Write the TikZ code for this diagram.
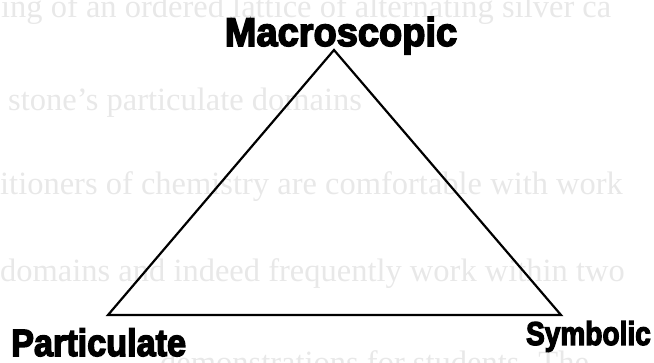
\documentclass[tikz,border=0pt]{standalone}
\usepackage{fontspec}
\setmainfont{Liberation Serif}
\newfontfamily\labelfont[BoldFeatures={FakeBold=4}]{Liberation Sans}
\tikzset{
  ghost/.style={anchor=base west, inner sep=0pt, text=black!9, font=\fontsize{32.5}{32.5}\selectfont},
  corner/.style={inner sep=0pt, text=black},
  edge/.style={draw=black, line width=2.2pt, line join=miter}
}
\begin{document}
\begin{tikzpicture}[x=1pt,y=-1pt]
\useasboundingbox (0,0) rectangle (654,363);
\clip (0,0) rectangle (654,363);
% faint show-through text of the page
\node[ghost] (g1) at (1,18) {ing of an ordered lattice of alternating silver ca};
\node[ghost] (g2) at (8,111) {stone's particulate domains};
\node[ghost] (g3) at (0,195) {itioners of chemistry are comfortable with work};
\node[ghost] (g4) at (0,282) {domains and indeed frequently work within two};
\node[ghost] (g5) at (160,374) {demonstrations for students. The};
% triangle
\coordinate (top) at (334,50);
\coordinate (left) at (108,315);
\coordinate (right) at (561,315);
\draw[edge] (top) -- (left) -- (right) -- cycle;
% labels
\node[corner, anchor=base, font=\labelfont\bfseries\fontsize{40}{40}\selectfont] (mac) at (341,46) {\scalebox{0.95}[1]{Macroscopic}};
\node[corner, anchor=base west, font=\labelfont\bfseries\fontsize{38}{38}\selectfont] (par) at (11,356) {\scalebox{0.9}[1]{Particulate}};
\node[corner, anchor=base east, font=\labelfont\bfseries\fontsize{33}{33}\selectfont] (sym) at (651,345) {\scalebox{0.85}[1]{Symbolic}};
\end{tikzpicture}
\end{document}
